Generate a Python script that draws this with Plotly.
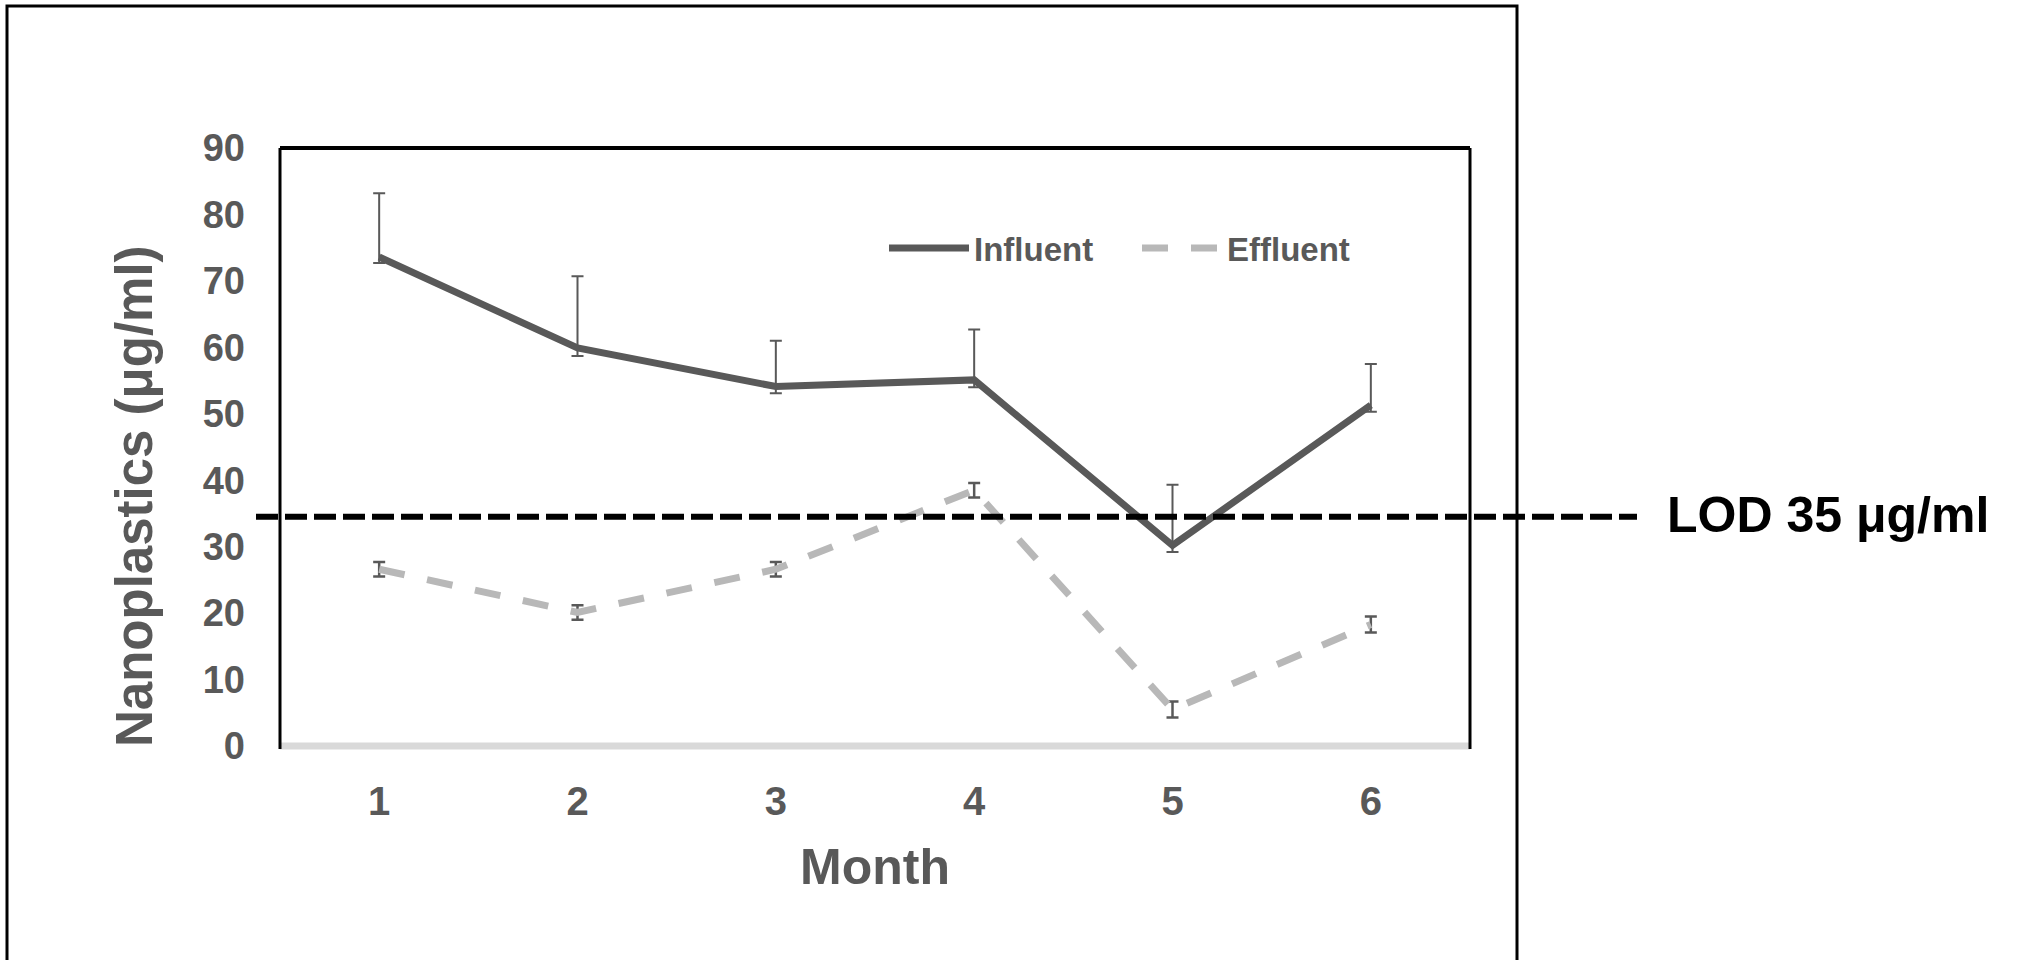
import plotly.graph_objects as go

months = ["1", "2", "3", "4", "5", "6"]
influent = [73.6, 59.9, 54.1, 55.1, 30.2, 51.3]
influent_err_plus = [9.6, 10.8, 6.9, 7.6, 9.1, 6.2]
influent_err_minus = [0.9, 1.2, 1.0, 1.1, 1.0, 1.0]
effluent = [26.6, 20.1, 26.6, 38.5, 5.5, 18.3]
effluent_err = [1.1, 1.1, 1.1, 1.1, 1.2, 1.2]
lod_value = 34.5
lod_label = "LOD 35 μg/ml"
y_ticks = [0, 10, 20, 30, 40, 50, 60, 70, 80, 90]

W, H = 2020, 960
L, R, T, B = 280, 550, 148, 214
pw, ph = W - L - R, H - T - B

def px(xp):
    return (xp - L) / pw

def py(yp):
    return (H - B - yp) / ph

GRAY = "#595959"
LIGHT = "#b8b8b8"
FONT = "Liberation Sans, Arial, sans-serif"

fig = go.Figure()
fig.add_trace(go.Scatter(
    x=months, y=influent, name="Influent", mode="lines",
    line=dict(color=GRAY, width=7),
    error_y=dict(type="data", symmetric=False, array=influent_err_plus,
                 arrayminus=influent_err_minus, color=GRAY, thickness=2, width=6),
))
fig.add_trace(go.Scatter(
    x=months, y=effluent, name="Effluent", mode="lines",
    line=dict(color=LIGHT, width=7, dash="26px,23px"),
    error_y=dict(type="data", array=effluent_err, color=GRAY, thickness=2.5, width=6),
))

shapes = []
# outer frame
shapes.append(dict(type="rect", xref="paper", yref="paper",
                   x0=px(7), x1=px(1517), y0=py(964), y1=py(6),
                   line=dict(color="black", width=3), layer="below"))
# plot area borders
shapes.append(dict(type="line", xref="paper", yref="paper", x0=0, x1=1, y0=0, y1=0,
                   line=dict(color="#d9d9d9", width=7), layer="below"))
shapes.append(dict(type="line", xref="paper", yref="paper", x0=0, x1=1, y0=1, y1=1,
                   line=dict(color="black", width=4)))
shapes.append(dict(type="line", xref="paper", yref="paper", x0=0, x1=0, y0=py(749), y1=1,
                   line=dict(color="black", width=3)))
shapes.append(dict(type="line", xref="paper", yref="paper", x0=1, x1=1, y0=py(749), y1=1,
                   line=dict(color="black", width=3)))
# LOD line
shapes.append(dict(type="line", xref="paper", yref="y", x0=px(256), x1=px(1637),
                   y0=lod_value, y1=lod_value,
                   line=dict(color="black", width=6, dash="22px,7px")))

annotations = [
    dict(text=lod_label, xref="paper", yref="y", x=px(1665), y=lod_value,
         xanchor="left", yanchor="middle", showarrow=False, yshift=2,
         font=dict(family=FONT, size=50, color="black", weight="bold")),
    dict(text="Nanoplastics (μg/ml)", xref="paper", yref="paper", x=px(134), y=py(496),
         xanchor="center", yanchor="middle", showarrow=False, textangle=-90,
         font=dict(family=FONT, size=51, color=GRAY, weight="bold")),
    dict(text="Month", xref="paper", yref="paper", x=0.5, y=py(867),
         xanchor="center", yanchor="middle", showarrow=False,
         font=dict(family=FONT, size=50, color=GRAY, weight="bold")),
]

fig.update_layout(
    width=W, height=H,
    margin=dict(l=L, r=R, t=T, b=B, autoexpand=False),
    paper_bgcolor="white", plot_bgcolor="white",
    showlegend=True,
    legend=dict(orientation="h", x=px(884), y=py(248), xanchor="left", yanchor="middle",
                font=dict(family=FONT, size=33, color=GRAY, weight="bold"),
                bgcolor="rgba(0,0,0,0)", itemwidth=80,
                entrywidthmode="pixels", entrywidth=158),
    shapes=shapes, annotations=annotations,
    xaxis=dict(type="category", range=[-0.5, 5.5], showgrid=False, zeroline=False,
               showline=False, ticks="", ticklabelstandoff=28,
               tickfont=dict(family=FONT, size=40, color=GRAY, weight="bold")),
    yaxis=dict(range=[0, 90], tickvals=y_ticks, showgrid=False, zeroline=False,
               showline=False, ticks="", ticklabelstandoff=34,
               tickfont=dict(family=FONT, size=38, color=GRAY, weight="bold")),
)

fig.write_html("out.html")
